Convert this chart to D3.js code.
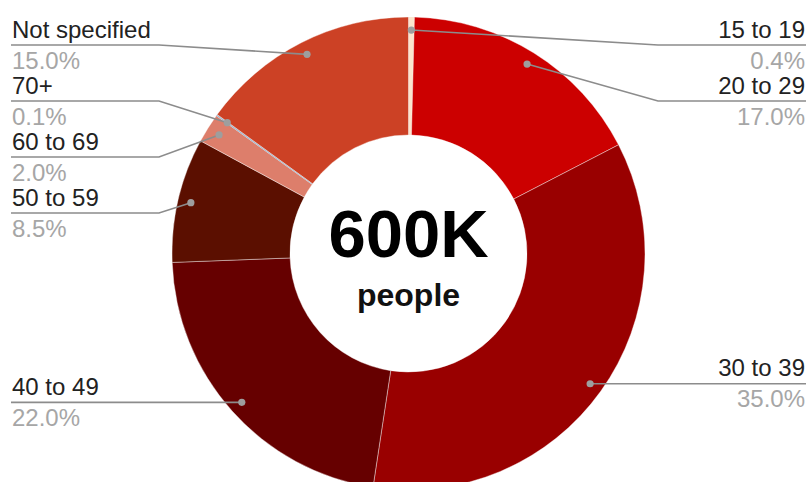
<!DOCTYPE html>
<html>
<head>
<meta charset="utf-8">
<script src="https://cdn.jsdelivr.net/npm/d3@7"></script>
<style>
  html, body { margin: 0; padding: 0; background: #fff; }
  svg { display: block; font-family: "Liberation Sans", Arial, sans-serif; }
</style>
</head>
<body>
<svg id="chart" width="808" height="482"></svg>
<script>
// Age groups, clockwise from twelve o'clock
const categories = ["15 to 19", "20 to 29", "30 to 39", "40 to 49", "50 to 59", "60 to 69", "70+", "Not specified"];
const shares = [0.4, 17.0, 35.0, 22.0, 8.5, 2.0, 0.1, 15.0];
const sliceColors = ["#fce5cd", "#cc0000", "#990000", "#660000", "#5b0f00", "#dd7e6b", "#9fb8d0", "#cc4125"];
const centerValue = "600K";
const centerUnit = "people";

const width = 808, height = 482;
const cx = 408.5, cy = 253.5;
const outerR = 236.5, innerR = 118.5;
const dotR = outerR * 0.945;
const kneeOffset = 249.5;
const labelGap = 56, labelTop = 45;

const svg = d3.select("#chart");
const g = svg.append("g").attr("transform", `translate(${cx},${cy})`);

const data = categories.map((c, i) => ({ name: c, value: shares[i], color: sliceColors[i] }));
const pie = d3.pie().sort(null).value(d => d.value);
const arcs = pie(data);
const arc = d3.arc().innerRadius(innerR).outerRadius(outerR);

g.selectAll("path.slice")
  .data(arcs)
  .join("path")
  .attr("class", "slice")
  .attr("d", arc)
  .attr("fill", d => d.data.color)
  .attr("stroke", d => d.data.value < 0.5 ? "none" : "#ffffff")
  .attr("stroke-width", 0.5)
  .attr("stroke-opacity", 0.8);

// Centre caption
g.append("text")
  .attr("x", 0).attr("y", 257 - cy)
  .attr("text-anchor", "middle")
  .attr("font-weight", "bold")
  .attr("font-size", 67)
  .attr("fill", "#000")
  .text(centerValue);
g.append("text")
  .attr("x", 0).attr("y", 306 - cy)
  .attr("text-anchor", "middle")
  .attr("font-weight", "bold")
  .attr("font-size", 32)
  .attr("fill", "#111")
  .text(centerUnit);

// Anchor points for the leader lines, half-way through each slice
const items = arcs.map(a => {
  const mid = (a.startAngle + a.endAngle) / 2;
  return {
    d: a.data,
    side: mid < Math.PI ? "right" : "left",
    x: Math.sin(mid) * dotR,
    y: -Math.cos(mid) * dotR
  };
});

// Stack labels on each side, merging crowded groups around their mean height
function stackLabels(list) {
  list.sort((a, b) => a.y - b.y);
  let clusters = list.map(it => ({ members: [it] }));
  const place = c => {
    const mean = d3.mean(c.members, m => m.y + cy);
    c.top = Math.max(labelTop, mean - (c.members.length - 1) * labelGap / 2);
  };
  clusters.forEach(place);
  let merged = true;
  while (merged) {
    merged = false;
    for (let i = 1; i < clusters.length; i++) {
      const prev = clusters[i - 1], cur = clusters[i];
      if (prev.top + prev.members.length * labelGap > cur.top) {
        prev.members = prev.members.concat(cur.members);
        place(prev);
        clusters.splice(i, 1);
        merged = true;
        break;
      }
    }
  }
  clusters.forEach(c => c.members.forEach((m, k) => { m.ly = c.top + k * labelGap; }));
}
stackLabels(items.filter(d => d.side === "left"));
stackLabels(items.filter(d => d.side === "right"));

const labels = svg.append("g");
items.forEach(it => {
  const px = cx + it.x, py = cy + it.y;
  const left = it.side === "left";
  const kneeX = left ? cx - kneeOffset : cx + kneeOffset;
  const endX = left ? 11 : 806;
  labels.append("path")
    .attr("d", `M${px},${py}L${kneeX},${it.ly}L${endX},${it.ly}`)
    .attr("fill", "none")
    .attr("stroke", "#8c8c8c")
    .attr("stroke-width", 1.6);
  labels.append("circle")
    .attr("cx", px).attr("cy", py).attr("r", 3.6)
    .attr("fill", "#9e9e9e");
  const tx = left ? 12 : 805;
  const anchor = left ? "start" : "end";
  labels.append("text")
    .attr("x", tx).attr("y", it.ly - 7.5)
    .attr("text-anchor", anchor)
    .attr("font-size", 24)
    .attr("fill", "#222")
    .text(it.d.name);
  labels.append("text")
    .attr("x", tx).attr("y", it.ly + 23.5)
    .attr("text-anchor", anchor)
    .attr("font-size", 24)
    .attr("fill", "#a6a6a6")
    .text(d3.format(".1f")(it.d.value) + "%");
});
</script>
</body>
</html>
